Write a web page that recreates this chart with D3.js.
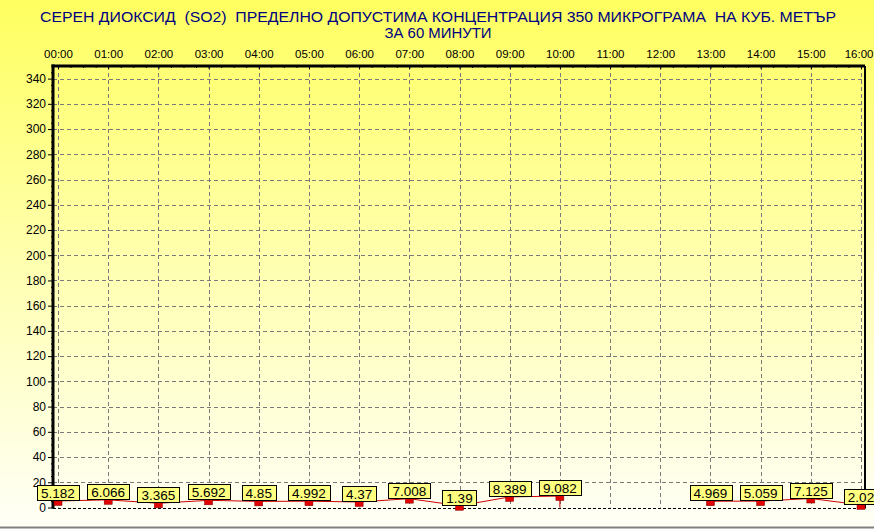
<!DOCTYPE html>
<html>
<head>
<meta charset="utf-8">
<script src="https://cdn.jsdelivr.net/npm/d3@7"></script>
<style>
  body { margin: 0; padding: 0; overflow: hidden; }
  svg { display: block; }
  text { font-family: Arial, "Liberation Sans", sans-serif; }
</style>
</head>
<body>
<svg id="chart" width="874" height="529"></svg>
<script>
// hours of the day (x), null = no measurement
const hours = [0, 1, 2, 3, 4, 5, 6, 7, 8, 9, 10, 11, 12, 13, 14, 15, 16];
const so2 = [5.182, 6.066, 3.365, 5.692, 4.85, 4.992, 4.37, 7.008, 1.39, 8.389, 9.082, null, null, 4.969, 5.059, 7.125, 2.02];
const labels = ["5.182", "6.066", "3.365", "5.692", "4.85", "4.992", "4.37", "7.008", "1.39", "8.389", "9.082", "", "", "4.969", "5.059", "7.125", "2.02"];
const yTicks = [0, 20, 40, 60, 80, 100, 120, 140, 160, 180, 200, 220, 240, 260, 280, 300, 320, 340];
const titleLines = [
  "СЕРЕН ДИОКСИД  (SO2)  ПРЕДЕЛНО ДОПУСТИМА КОНЦЕНТРАЦИЯ 350 МИКРОГРАМА  НА КУБ. МЕТЪР",
  "ЗА 60 МИНУТИ"
];

const width = 874, height = 529;
const svg = d3.select("#chart");

// background gradient
const defs = svg.append("defs");
const grad = defs.append("linearGradient")
  .attr("id", "bg").attr("x1", 0).attr("y1", 0).attr("x2", 0).attr("y2", 1);
grad.append("stop").attr("offset", "0%").attr("stop-color", "#ffff60");
grad.append("stop").attr("offset", "50%").attr("stop-color", "#ffffb0");
grad.append("stop").attr("offset", "100%").attr("stop-color", "#fffff8");
svg.append("rect").attr("width", width).attr("height", height).attr("fill", "url(#bg)");
svg.append("line")
  .attr("x1", 0).attr("x2", width).attr("y1", height - 1.5).attr("y2", height - 1.5)
  .attr("stroke", "#808080").attr("stroke-width", 2);

// title
svg.append("g").selectAll("text")
  .data(titleLines)
  .enter()
  .append("text")
  .attr("x", 438)
  .attr("y", function (d, i) { return 22 + i * 16; })
  .attr("text-anchor", "middle")
  .attr("fill", "#000080")
  .attr("font-size", 14)
  .style("white-space", "pre")
  .attr("textLength", function (d, i) { return i == 0 ? 796 : 107; })
  .attr("lengthAdjust", "spacingAndGlyphs")
  .text(function (d) { return d; });

const pLeft = 53, pRight = 865, pTop = 66, pBottom = 507.5;
const x = d3.scaleLinear().domain([0, 16]).range([58, 861]);
const y = d3.scaleLinear().domain([0, 350]).range([pBottom, pTop]);

// grid
const grid = svg.append("g").attr("stroke", "#7a7a7a").attr("stroke-dasharray", "4,3").attr("stroke-width", 1);
grid.selectAll(".vg")
  .data(hours)
  .enter()
  .append("line")
  .attr("x1", function (d) { return Math.round(x(d)) + 0.5; })
  .attr("x2", function (d) { return Math.round(x(d)) + 0.5; })
  .attr("y1", pTop)
  .attr("y2", pBottom);
grid.selectAll(".hg")
  .data(yTicks.filter(function (d) { return d > 0; }))
  .enter()
  .append("line")
  .attr("x1", pLeft)
  .attr("x2", pRight)
  .attr("y1", function (d) { return Math.round(y(d)) + 0.5; })
  .attr("y2", function (d) { return Math.round(y(d)) + 0.5; });

// bottom dashed zero line
svg.append("line")
  .attr("x1", pLeft).attr("x2", pRight)
  .attr("y1", Math.round(y(0)) + 0.5).attr("y2", Math.round(y(0)) + 0.5)
  .attr("stroke", "#000").attr("stroke-dasharray", "3,2");

// left axis
const yAxis = d3.axisLeft(y).tickValues(yTicks).tickSize(5).tickSizeOuter(0).tickPadding(2);
const gy = svg.append("g").attr("transform", "translate(" + pLeft + ",0)").call(yAxis);
gy.select(".domain").remove();
gy.attr("font-size", 12).attr("font-family", "Arial, 'Liberation Sans', sans-serif");
gy.selectAll("text").attr("fill", "#000");
const yMinor = d3.axisLeft(y).tickValues(d3.range(5, 350, 5).filter(function (d) { return d % 20 != 0; })).tickSize(2).tickFormat("");
const gym = svg.append("g").attr("transform", "translate(" + pLeft + ",0)").call(yMinor);
gym.select(".domain").remove();

// top axis
const xAxis = d3.axisTop(x).tickValues(hours).tickSize(-3).tickSizeOuter(0).tickPadding(8)
  .tickFormat(function (d) { return (d < 10 ? "0" : "") + d + ":00"; });
const gx = svg.append("g").attr("transform", "translate(0," + pTop + ")").call(xAxis);
gx.select(".domain").remove();
gx.attr("font-size", 11.5).attr("font-family", "Arial, 'Liberation Sans', sans-serif");
gx.selectAll("text").attr("fill", "#000");
// keep the last hour label inside the picture
gx.selectAll(".tick text")
  .filter(function (d) { return d == 16; })
  .attr("text-anchor", "end")
  .attr("dx", width - 1 - x(16));
const xMinor = d3.axisTop(x).tickValues(d3.range(0.25, 16, 0.25).filter(function (d) { return d % 1 != 0; })).tickSize(-2).tickFormat("");
const gxm = svg.append("g").attr("transform", "translate(0," + pTop + ")").call(xMinor);
gxm.select(".domain").remove();

// frame
const frame = svg.append("g").attr("stroke", "#000").attr("fill", "none");
frame.append("line").attr("x1", pLeft).attr("x2", pLeft).attr("y1", pTop - 1.5).attr("y2", pBottom + 1).attr("stroke-width", 3);
frame.append("line").attr("x1", pLeft - 1.5).attr("x2", pRight).attr("y1", pTop).attr("y2", pTop).attr("stroke-width", 3);
frame.append("line").attr("x1", pRight).attr("x2", pRight).attr("y1", pTop).attr("y2", pBottom + 1).attr("stroke-width", 2);

// data
const points = hours.map(function (h, i) { return { h: h, v: so2[i], label: labels[i] }; });
const valid = points.filter(function (d) { return d.v != null; });

const line = d3.line()
  .defined(function (d) { return d.v != null; })
  .x(function (d) { return x(d.h); })
  .y(function (d) { return y(d.v); });
svg.append("path")
  .datum(points)
  .attr("d", line)
  .attr("fill", "none")
  .attr("stroke", "#cc0000")
  .attr("stroke-width", 1);

// drop to axis where the next value is missing
svg.append("g").selectAll("line")
  .data(points.filter(function (d, i) { return d.v != null && i < points.length - 1 && points[i + 1].v == null; }))
  .enter()
  .append("line")
  .attr("x1", function (d) { return x(d.h); })
  .attr("x2", function (d) { return x(d.h); })
  .attr("y1", function (d) { return y(d.v); })
  .attr("y2", y(0))
  .attr("stroke", "#cc0000");

svg.append("g").selectAll("rect")
  .data(valid)
  .enter()
  .append("rect")
  .attr("x", function (d) { return x(d.h) - 4; })
  .attr("y", function (d) { return y(d.v) - 0.5; })
  .attr("width", 8)
  .attr("height", 5)
  .attr("fill", "#e00000")
  .attr("stroke", "#800000")
  .attr("stroke-width", 0.5);

const lab = svg.append("g").selectAll("g")
  .data(valid)
  .enter()
  .append("g");
const labText = lab.append("text")
  .attr("x", function (d) { return x(d.h); })
  .attr("y", function (d) { return y(d.v) - 3; })
  .attr("text-anchor", "middle")
  .attr("font-size", 13.5)
  .attr("fill", "#000")
  .text(function (d) { return d.label; });
labText.each(function (d) {
  const bb = this.getBBox();
  d3.select(this.parentNode).insert("rect", "text")
    .attr("x", Math.round(x(d.h) - bb.width / 2 - 4) + 0.5)
    .attr("y", Math.round(y(d.v) - 16) + 0.5)
    .attr("width", Math.round(bb.width + 8))
    .attr("height", 15)
    .attr("fill", "#ffff80")
    .attr("stroke", "#000");
});
</script>
</body>
</html>
